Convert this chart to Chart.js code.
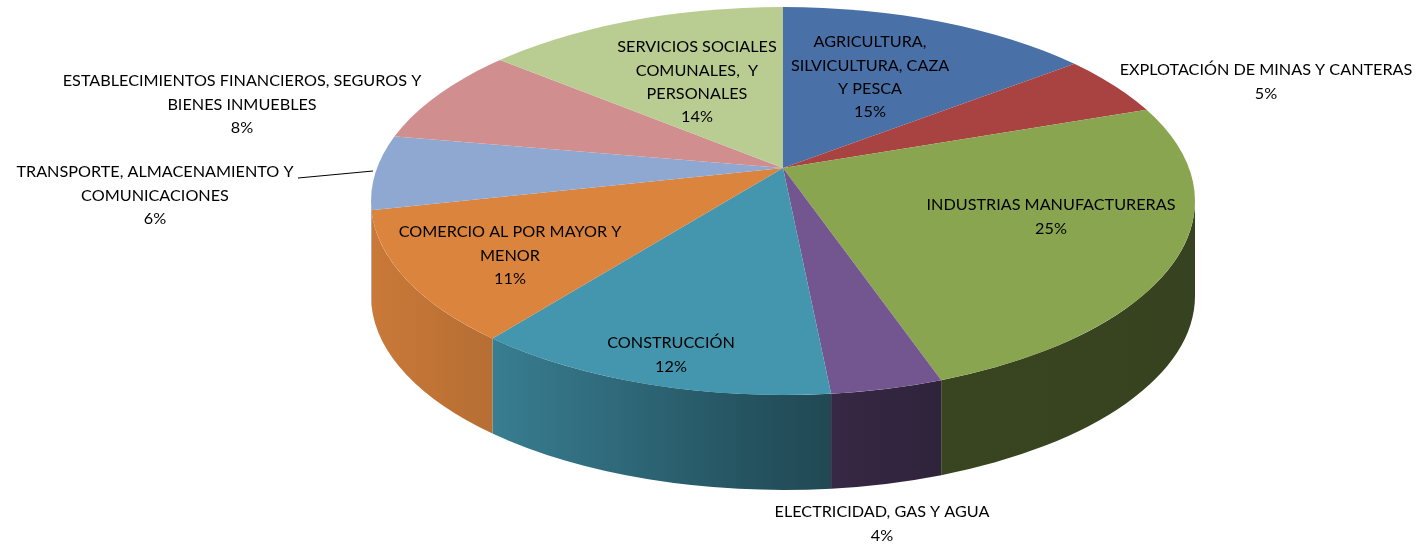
<!DOCTYPE html>
<html>
<head>
<meta charset="utf-8">
<script src="https://cdn.jsdelivr.net/npm/chart.js@4.4.0/dist/chart.umd.min.js"></script>
<style>
  html, body { margin: 0; padding: 0; background: #fff; }
  #wrap { width: 1418px; height: 544px; }
</style>
</head>
<body>
<div id="wrap"><canvas id="pastel" width="1418" height="544"></canvas></div>
<script>
// datos del grafico
var sectores = [
  ['AGRICULTURA,', 'SILVICULTURA, CAZA', 'Y PESCA'],
  ['EXPLOTACIÓN DE MINAS Y CANTERAS'],
  ['INDUSTRIAS MANUFACTURERAS'],
  ['ELECTRICIDAD, GAS Y AGUA'],
  ['CONSTRUCCIÓN'],
  ['COMERCIO AL POR MAYOR Y', 'MENOR'],
  ['TRANSPORTE, ALMACENAMIENTO Y', 'COMUNICACIONES'],
  ['ESTABLECIMIENTOS FINANCIEROS, SEGUROS Y', 'BIENES INMUEBLES'],
  ['SERVICIOS SOCIALES', 'COMUNALES,  Y', 'PERSONALES']
];
// (las etiquetas muestran el redondeo)
var porcentajes = [14.7, 5.1, 24.8, 3.8, 12.4, 10.8, 6.1, 8.1, 14.2];
var colores = ['#4A70A8', '#A84342', '#8AA54F', '#735590', '#4396AE',
               '#DB843D', '#8EA8D2', '#D08F8E', '#B9CC92'];

// donde va cada etiqueta (centro x, y de la primera linea)
var posEtiquetas = [
  [870, 42], [1266, 70], [1051, 205], [882, 512], [671, 343],
  [510, 232], [155, 172], [242, 81], [697, 47]
];
var lineaGuia = [[298, 178], [373, 171]];

// geometria del "3D"
var P = { x: 783, y: 168 };                       // punto donde se juntan las porciones
var E = { x: 783, y: 201, rx: 412, ry: 194 };     // elipse de la cara superior
var PROF = 95;                                    // alto del costado
var SY = 195, ESC = 1.5;

function sombra(hex, f) {
  var n = parseInt(hex.slice(1), 16);
  var r = Math.round(((n >> 16) & 255) * f);
  var g = Math.round(((n >> 8) & 255) * f);
  var b = Math.round((n & 255) * f);
  return 'rgb(' + r + ',' + g + ',' + b + ')';
}

// angulo sobre la elipse donde corta el rayo de la porcion
function corte(ang) {
  var du = Math.cos(ang) * ESC;
  var dv = Math.sin(ang) * SY * ESC / E.ry;
  var u0 = (P.x - E.x) / E.rx, v0 = (P.y - E.y) / E.ry;
  var A = du * du + dv * dv, B = u0 * du + v0 * dv, C = u0 * u0 + v0 * v0 - 1;
  var t = (-B + Math.sqrt(B * B - A * C)) / A;
  return Math.atan2(v0 + t * dv, u0 + t * du);
}

var pastel3d = {
  id: 'pastel3d',
  beforeDatasetDraw: function(chart) {
    var ctx = chart.ctx;
    var arcs = chart.getDatasetMeta(0).data;
    var R = arcs[0].outerRadius, cx = arcs[0].x, cy = arcs[0].y;

    // costados (solo la mitad de adelante)
    arcs.forEach(function(a, i) {
      var f1 = corte(a.startAngle), f2 = corte(a.endAngle);
      while (f2 < f1) f2 += 2 * Math.PI;
      for (var k = -1; k <= 1; k++) {
        var s = Math.max(f1, 2 * Math.PI * k), e = Math.min(f2, 2 * Math.PI * k + Math.PI);
        if (e <= s) continue;
        var gr = ctx.createLinearGradient(E.x - E.rx, 0, E.x + E.rx, 0);
        gr.addColorStop(0, sombra(colores[i], 0.92));
        gr.addColorStop(0.15, sombra(colores[i], 0.83));
        gr.addColorStop(0.3, sombra(colores[i], 0.7));
        gr.addColorStop(0.46, sombra(colores[i], 0.55));
        gr.addColorStop(0.6, sombra(colores[i], 0.45));
        gr.addColorStop(0.7, sombra(colores[i], 0.41));
        gr.addColorStop(1, sombra(colores[i], 0.4));
        ctx.beginPath();
        ctx.ellipse(E.x, E.y, E.rx, E.ry, 0, s, e, false);
        ctx.lineTo(E.x + E.rx * Math.cos(e), E.y + PROF + E.ry * Math.sin(e));
        ctx.ellipse(E.x, E.y + PROF, E.rx, E.ry, 0, e, s, true);
        ctx.closePath();
        ctx.fillStyle = gr;
        ctx.fill();
      }
    });

    // cara superior: el pastel agrandado y recortado por la elipse
    ctx.save();
    ctx.beginPath();
    ctx.ellipse(E.x, E.y, E.rx, E.ry, 0, 0, 2 * Math.PI);
    ctx.clip();
    ctx.translate(P.x, P.y);
    ctx.scale(E.rx * ESC / R, SY * ESC / R);
    ctx.translate(-cx, -cy);
  },
  afterDatasetDraw: function(chart) {
    chart.ctx.restore();
  },
  afterDraw: function(chart) {
    var ctx = chart.ctx;
    ctx.save();
    ctx.font = '100px Lato';
    var tam = 100 * 293 / ctx.measureText('EXPLOTACIÓN DE MINAS Y CANTERAS').width;
    ctx.font = tam.toFixed(2) + 'px Lato';
    ctx.fillStyle = '#000';
    ctx.textAlign = 'center';
    ctx.textBaseline = 'middle';
    var total = porcentajes.reduce(function(s, v) { return s + v; }, 0);
    sectores.forEach(function(lineas, i) {
      var txt = lineas.concat([Math.round(porcentajes[i] / total * 100) + '%']);
      txt.forEach(function(l, j) {
        ctx.fillText(l, posEtiquetas[i][0], posEtiquetas[i][1] + j * 23.4);
      });
    });
    ctx.strokeStyle = '#000';
    ctx.lineWidth = 1;
    ctx.beginPath();
    ctx.moveTo(lineaGuia[0][0], lineaGuia[0][1]);
    ctx.lineTo(lineaGuia[1][0], lineaGuia[1][1]);
    ctx.stroke();
    ctx.restore();
  }
};

var pastel = document.getElementById('pastel').getContext('2d');
var chart = new Chart(pastel, {
  type: 'pie',
  data: {
    labels: sectores,
    datasets: [{
      data: porcentajes,
      backgroundColor: colores,
      borderWidth: 0,
      hoverOffset: 0
    }]
  },
  options: {
    responsive: false,
    devicePixelRatio: 1,
    animation: false,
    events: [],
    layout: { padding: 0 },
    plugins: {
      legend: { display: false },
      tooltip: { enabled: false }
    }
  },
  plugins: [pastel3d]
});
</script>
</body>
</html>
